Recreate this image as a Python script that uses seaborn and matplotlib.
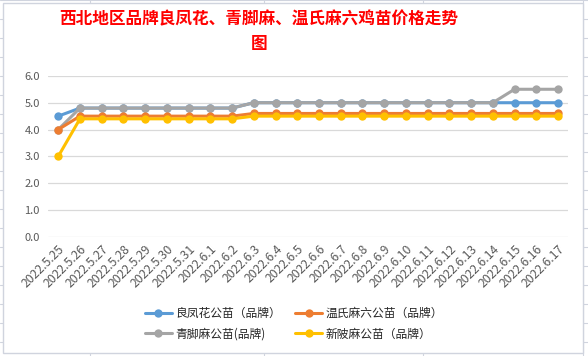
import pandas as pd
import matplotlib.pyplot as plt
import seaborn as sns
from matplotlib.patches import Rectangle
from matplotlib.lines import Line2D

sns.set_theme(style="whitegrid")
plt.rcParams["font.family"] = ["Noto Sans CJK SC", "DejaVu Sans"]

dates = ["2022.5.25", "2022.5.26", "2022.5.27", "2022.5.28", "2022.5.29", "2022.5.30",
         "2022.5.31", "2022.6.1", "2022.6.2", "2022.6.3", "2022.6.4", "2022.6.5",
         "2022.6.6", "2022.6.7", "2022.6.8", "2022.6.9", "2022.6.10", "2022.6.11",
         "2022.6.12", "2022.6.13", "2022.6.14", "2022.6.15", "2022.6.16", "2022.6.17"]
lfh = [4.5, 4.8, 4.8, 4.8, 4.8, 4.8, 4.8, 4.8, 4.8, 5.0, 5.0, 5.0,
       5.0, 5.0, 5.0, 5.0, 5.0, 5.0, 5.0, 5.0, 5.0, 5.0, 5.0, 5.0]
qjm = [4.0, 4.8, 4.8, 4.8, 4.8, 4.8, 4.8, 4.8, 4.8, 5.0, 5.0, 5.0,
       5.0, 5.0, 5.0, 5.0, 5.0, 5.0, 5.0, 5.0, 5.0, 5.5, 5.5, 5.5]
wsml = [4.0, 4.5, 4.5, 4.5, 4.5, 4.5, 4.5, 4.5, 4.5, 4.6, 4.6, 4.6,
        4.6, 4.6, 4.6, 4.6, 4.6, 4.6, 4.6, 4.6, 4.6, 4.6, 4.6, 4.6]
xbm = [3.0, 4.4, 4.4, 4.4, 4.4, 4.4, 4.4, 4.4, 4.4, 4.5, 4.5, 4.5,
       4.5, 4.5, 4.5, 4.5, 4.5, 4.5, 4.5, 4.5, 4.5, 4.5, 4.5, 4.5]

# legend order: column 1 = blue, gray ; column 2 = orange, yellow
series = {
    "良凤花公苗（品牌）": lfh,
    "青脚麻公苗(品牌)": qjm,
    "温氏麻六公苗（品牌）": wsml,
    "新陂麻公苗（品牌）": xbm,
}
colors = ["#5B9BD5", "#A5A5A5", "#ED7D31", "#FFC000"]
draw_order = [0, 2, 3, 1]  # gray drawn above blue like the original

rows = []
for name, vals in series.items():
    for i, v in enumerate(vals):
        rows.append({"x": i, "date": dates[i], "series": name, "price": v})
df = pd.DataFrame(rows)
names = list(series.keys())

W, H = 588, 356
fig = plt.figure(figsize=(W / 100, H / 100), dpi=100)

# spreadsheet cells behind the chart
for yy in range(0, H, 19):
    fig.lines.append(Line2D([0, 1], [1 - yy / H, 1 - yy / H], transform=fig.transFigure,
                            color="#D0D4DE", lw=0.8, zorder=-3))
for xx in [90, 264, 423, 583]:
    fig.lines.append(Line2D([xx / W, xx / W], [0, 1], transform=fig.transFigure,
                            color="#D0D4DE", lw=0.8, zorder=-3))
# chart area
fig.patches.append(Rectangle((3 / W, 3 / H), 580 / W, 350 / H, transform=fig.transFigure,
                             facecolor="white", edgecolor="#D0D4DE", lw=1, zorder=-2))

ax = fig.add_axes([0.082, 0.334, 0.884, 0.453])

for k in draw_order:
    sub = df[df["series"] == names[k]]
    sns.lineplot(data=sub, x="x", y="price", color=colors[k], lw=2.2, marker="o",
                 markersize=6, markeredgewidth=0, label=names[k], ax=ax, zorder=3 + k)

ax.set_xlim(-0.46, len(dates) - 1 + 0.46)
ax.set_ylim(0, 6.0)
ax.set_yticks([0, 1, 2, 3, 4, 5, 6])
ax.set_yticklabels([f"{v:.1f}" for v in range(7)], fontsize=8, color="#595959")
ax.set_xticks(range(len(dates)))
ax.set_xticklabels(dates, rotation=45, ha="right", rotation_mode="anchor",
                   fontsize=8.8, color="#595959")
ax.tick_params(axis="x", length=0, pad=4)
ax.tick_params(axis="y", length=0, pad=6)
ax.set_xlabel("")
ax.set_ylabel("")
ax.grid(axis="x", visible=False)
ax.grid(axis="y", color="#D9D9D9", lw=0.9)
for s in ax.spines.values():
    s.set_visible(False)
ax.set_facecolor("white")

h, l = ax.get_legend_handles_labels()
lut = dict(zip(l, h))
ax.legend([lut[n] for n in names], names, ncol=2, loc="center",
          bbox_to_anchor=(0.5, 0.091), bbox_transform=fig.transFigure,
          frameon=False, fontsize=8.5, handlelength=2.3, handletextpad=0.3,
          columnspacing=1.2, labelspacing=0.65, borderpad=0)

fig.text(0.44, 0.945, "西北地区品牌良凤花、青脚麻、温氏麻六鸡苗价格走势", color="red",
         fontsize=12, fontweight="bold", ha="center", va="center")
fig.text(0.44, 0.875, "图", color="red", fontsize=12, fontweight="bold",
         ha="center", va="center")

fig.savefig("out.png", dpi=100)
